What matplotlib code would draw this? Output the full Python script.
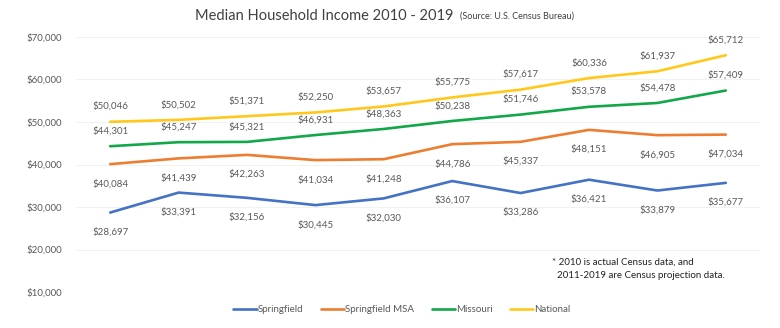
import matplotlib
matplotlib.use("Agg")
import matplotlib.pyplot as plt
from matplotlib.ticker import FuncFormatter

plt.rcParams['font.family'] = ['Lato', 'DejaVu Sans']

years = [2010, 2011, 2012, 2013, 2014, 2015, 2016, 2017, 2018, 2019]
springfield = [28697, 33391, 32156, 30445, 32030, 36107, 33286, 36421, 33879, 35677]
springfield_msa = [40084, 41439, 42263, 41034, 41248, 44786, 45337, 48151, 46905, 47034]
missouri = [44301, 45247, 45321, 46931, 48363, 50238, 51746, 53578, 54478, 57409]
national = [50046, 50502, 51371, 52250, 53657, 55775, 57617, 60336, 61937, 65712]
series_names = ["Springfield", "Springfield MSA", "Missouri", "National"]
y_ticks = [10000, 20000, 30000, 40000, 50000, 60000, 70000]

colors = ["#4472C4", "#ED7D31", "#12A84A", "#FFC81A"]
label_offsets = [-14, -14, 11, 11]  # points: below for Springfield/MSA, above for Missouri/National

fig = plt.figure(figsize=(7.8, 3.28), dpi=100)
ax = fig.add_axes([76 / 780, 1 - 292 / 328, (760 - 76) / 780, (292 - 37) / 328])

xs = list(range(len(years)))
all_series = [springfield, springfield_msa, missouri, national]
for vals, name, col, off in zip(all_series, series_names, colors, label_offsets):
    ax.plot(xs, vals, color=col, lw=1.9, label=name, solid_capstyle='round', zorder=3)
    for x, v in zip(xs, vals):
        ax.annotate(f"${v:,}", (x, v), xytext=(0, off), textcoords="offset points",
                    ha="center", va="center", fontsize=7, color="#595959")

ax.set_xlim(-0.5, len(years) - 0.5)
ax.set_ylim(10000, 70000)
ax.set_yticks(y_ticks)
ax.yaxis.set_major_formatter(FuncFormatter(lambda v, p: f"${v:,.0f}"))
ax.tick_params(axis='y', length=0, labelsize=7, labelcolor="#595959", pad=10)
ax.set_xticks([])
ax.grid(axis='y', color="#F2F2F2", lw=0.8)
for s in ax.spines.values():
    s.set_visible(False)

fig.text(195 / 780, 1 - 16 / 328, "Median Household Income 2010 - 2019", fontsize=10.5,
         color="#404040", va="center", ha="left")
fig.text(460 / 780, 1 - 16 / 328, "(Source: U.S. Census Bureau)", fontsize=6.5,
         color="#404040", va="center", ha="left")

fig.text(552 / 780, 1 - 262 / 328, "* 2010 is actual Census data, and", fontsize=7,
         color="#222222", va="center", ha="left")
fig.text(557 / 780, 1 - 275 / 328, "2011-2019 are Census projection data.", fontsize=7,
         color="#222222", va="center", ha="left")

leg = fig.legend(loc="center", bbox_to_anchor=(402 / 780, 1 - 310 / 328), ncol=4,
                 frameon=False, fontsize=7, handlelength=2.4, handletextpad=0.1,
                 columnspacing=1.8, labelcolor="#595959")

fig.savefig("out.png", dpi=100, facecolor="white")
